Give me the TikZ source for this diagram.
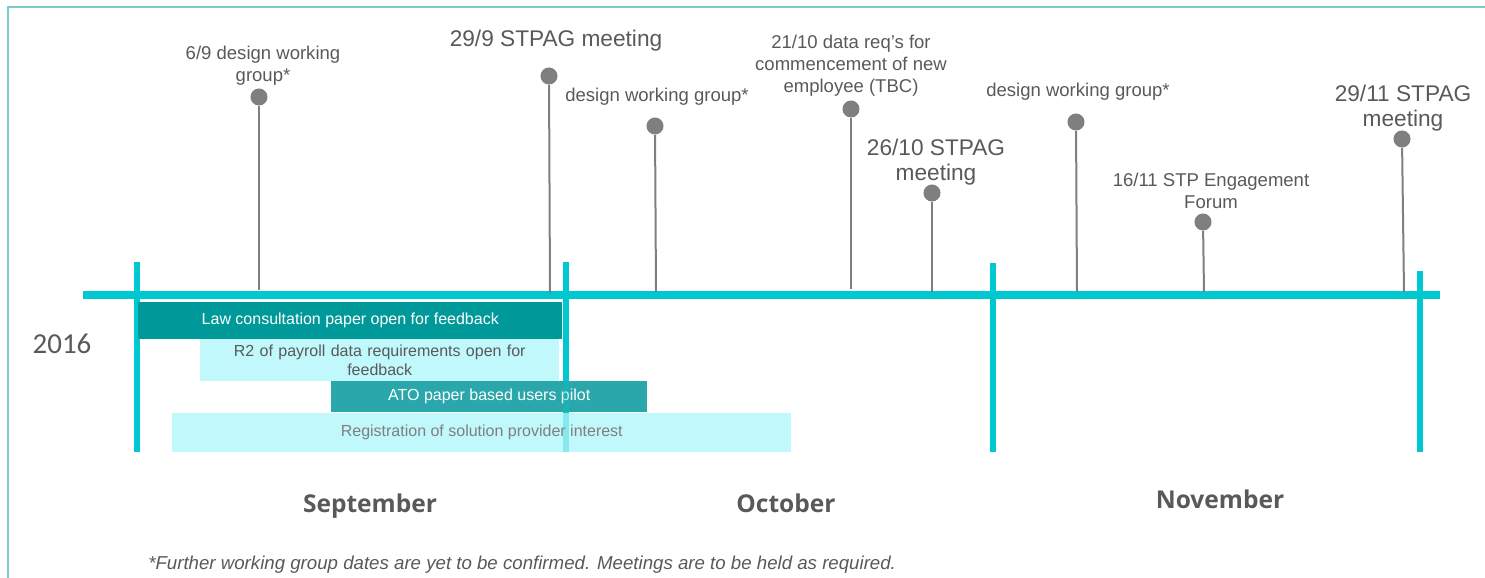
\documentclass[tikz,border=0pt]{standalone}
\usepackage{fontspec}
\setmainfont{Liberation Sans}
\newfontfamily\monthfont{Open Sans}
\newfontfamily\yearfont{Carlito}
\definecolor{frame}{HTML}{7ACCC8}
\definecolor{axis}{HTML}{00C8D0}
\definecolor{darkteal}{HTML}{009999}
\definecolor{midteal}{HTML}{2AA7AA}
\definecolor{lightcyan}{HTML}{C0F8FC}
\definecolor{pingrey}{HTML}{7F7F7F}
\definecolor{txtgrey}{HTML}{595959}
\tikzset{
  axisline/.style={draw=axis, line width=6pt},
  monthline/.style={draw=axis, line width=4pt},
  pindot/.style={circle, fill=pingrey, inner sep=0pt, minimum size=12.8pt},
  stem/.style={draw=pingrey, line width=1.5pt},
  lbl/.style={text=txtgrey, align=center, inner sep=0pt, font=\fontsize{13.9}{16.5}\selectfont},
  biglbl/.style={text=txtgrey, align=center, inner sep=0pt, font=\fontsize{17}{19.2}\selectfont},
  bar/.style={inner sep=0pt, anchor=north west, align=center, font=\fontsize{12}{14.5}\selectfont},
  monthlbl/.style={text=txtgrey, inner sep=0pt, font=\monthfont\bfseries\fontsize{18.4}{22}\selectfont},
}
\begin{document}
\begin{tikzpicture}[x=0.75pt,y=-0.75pt]
\useasboundingbox (0,0) rectangle (1485,578);
% frame
\draw[frame, line width=1.5pt] (8,578) -- (8,7) -- (1485,7);
% month separators
\coordinate (m1t) at (137,262); \coordinate (m1b) at (137,452);
\coordinate (m2t) at (566,262); \coordinate (m2b) at (566,452);
\coordinate (m3t) at (993,263); \coordinate (m3b) at (993,452);
\coordinate (m4t) at (1420,271); \coordinate (m4b) at (1420,452);
\draw[monthline] (m1t) -- (m1b);
\draw[monthline] (m2t) -- (m2b);
\draw[monthline] (m3t) -- (m3b);
\draw[monthline] (m4t) -- (m4b);
% axis
\coordinate (axL) at (83,295); \coordinate (axR) at (1440,295);
\draw[axisline] (axL) -- (axR);
% bars
\node[bar, fill=darkteal, text=white, minimum width=424*0.75pt, minimum height=37*0.75pt] (law) at (138,302) {Law consultation paper open for feedback};
\node[bar, fill=lightcyan, text=txtgrey, minimum width=359*0.75pt, minimum height=42*0.75pt, text width=350*0.75pt] (r2) at (200,339) {R2 of payroll data requirements open for\\feedback};
\node[bar, fill=midteal, text=white, minimum width=316*0.75pt, minimum height=31*0.75pt] (ato) at (331,381) {ATO paper based users pilot};
\node[bar, fill=lightcyan, text=pingrey, minimum width=619*0.75pt, minimum height=39*0.75pt] (reg) at (172,413) {Registration of solution provider interest};
% separator shows faintly through the bars
\coordinate (m2m) at (566,381);
\draw[monthline, draw opacity=0.3] (m2m) -- (m2b);
% events
\node[pindot] (e1) at (259,97) {};
\node[pindot] (e2) at (549,76) {};
\node[pindot] (e3) at (655,126) {};
\node[pindot] (e4) at (851,109) {};
\node[pindot] (e5) at (932,193) {};
\node[pindot] (e6) at (1076,122) {};
\node[pindot] (e7) at (1203,222) {};
\node[pindot] (e8) at (1402,139) {};
\coordinate (b1) at (259,290);
\coordinate (b2) at (550,293);
\coordinate (b3) at (656,292);
\coordinate (b4) at (851,289);
\coordinate (b5) at (932,292);
\coordinate (b6) at (1077,292);
\coordinate (b7) at (1204,292);
\coordinate (b8) at (1404,292);
\draw[stem] (e1) -- (b1);
\draw[stem] (e2) -- (b2);
\draw[stem] (e3) -- (b3);
\draw[stem] (e4) -- (b4);
\draw[stem] (e5) -- (b5);
\draw[stem] (e6) -- (b6);
\draw[stem] (e7) -- (b7);
\draw[stem] (e8) -- (b8);
% labels
\node[lbl] (l1) at (263,66) {6/9 design working\\group*};
\node[biglbl] (l2) at (556,41) {29/9 STPAG meeting};
\node[lbl] (l3) at (657,97) {design working group*};
\node[lbl] (l4) at (851,66) {21/10 data req's for\\commencement of new\\employee (TBC)};
\node[biglbl] (l5) at (936,162) {26/10 STPAG\\meeting};
\node[lbl] (l6) at (1078,92) {design working group*};
\node[lbl] (l7) at (1211,191) {16/11 STP Engagement\\Forum};
\node[biglbl] (l8) at (1403,108) {29/11 STPAG\\meeting};
% year and months
\node[text=txtgrey, inner sep=0pt, font=\yearfont\fontsize{21.7}{24}\selectfont] (yr) at (62,344) {2016};
\node[monthlbl] (sep) at (370,506) {September};
\node[monthlbl] (oct) at (786,503) {October};
\node[monthlbl] (nov) at (1220,499) {November};
% footnote
\node[anchor=west, inner sep=0pt, text=txtgrey, font=\itshape\fontsize{14}{16}\selectfont] (fn) at (148,565) {*Further working group dates are yet to be confirmed. Meetings are to be held as required.};
\end{tikzpicture}
\end{document}
